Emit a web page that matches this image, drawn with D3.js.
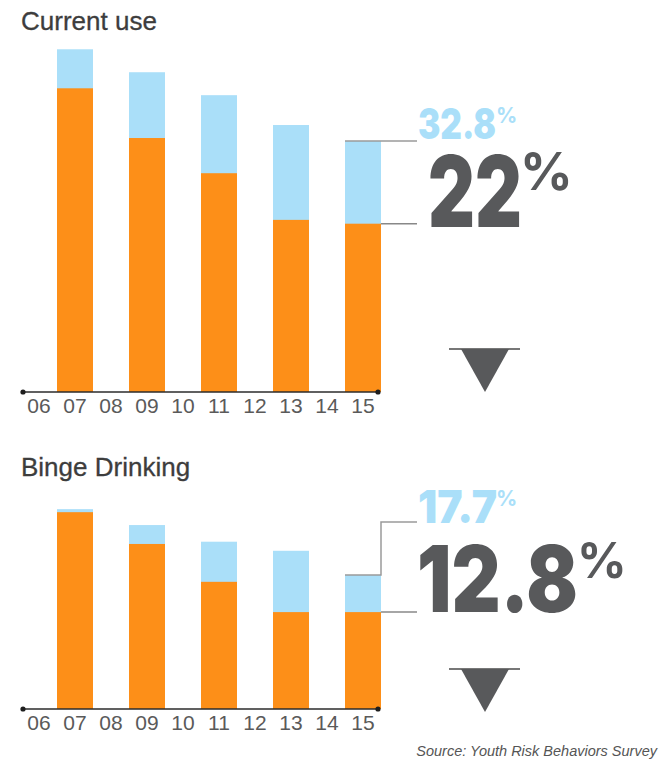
<!DOCTYPE html>
<html>
<head>
<meta charset="utf-8">
<script src="https://cdn.jsdelivr.net/npm/d3@7"></script>
<style>
  body { margin: 0; background: #fff; }
  svg { display: block; }
</style>
</head>
<body>
<div id="chart"></div>
<script>
// Data
const years = ["06", "07", "08", "09", "10", "11", "12", "13", "14", "15"];
const barYears = ["07", "09", "11", "13", "15"];

const currentTotal = [44.8, 41.8, 38.8, 34.9, 32.8];
const currentOrange = [39.7, 33.2, 28.6, 22.5, 22];

const bingeTotal = [26.4, 24.3, 22.1, 20.9, 17.7];
const bingeOrange = [26.0, 21.8, 16.8, 12.8, 12.8];

const titles = ["Current use", "Binge Drinking"];
const bigLabels = ["22", "12.8"];
const smallLabels = ["32.8", "17.7"];

const ORANGE = "#fd8f18";
const BLUE = "#aadff9";
const DARK = "#58595b";
const LINE = "#9a9a9a";
const numFont = "Inter, Roboto, 'DejaVu Sans', sans-serif";
const textFont = "'Liberation Sans', Arial, Helvetica, sans-serif";

const width = 660, height = 761;

const svg = d3.select("#chart")
    .append("svg")
    .attr("width", width)
    .attr("height", height);

const x = d3.scaleBand()
    .domain(years)
    .range([21, 381])
    .padding(0);

// Panel settings (layout only)
const panels = [
    {
        title: titles[0], titleY: 30,
        total: currentTotal, orange: currentOrange,
        base: 392, pxPer: 7.65,
        small: smallLabels[0], big: bigLabels[0],
        smallX: 418, smallY: 139, smallSize: 42, smallW: 78,
        smallPctX: 496, smallPctY: 123, smallPctSize: 21,
        bigX: 428, bigY: 227, bigSize: 99, bigW: 94,
        bigPctX: 520, bigPctY: 190, bigPctSize: 52,
        elbow: null,
        triY: 349
    },
    {
        title: titles[1], titleY: 476,
        total: bingeTotal, orange: bingeOrange,
        base: 709, pxPer: 7.57,
        small: smallLabels[1], big: bigLabels[1],
        smallX: 418, smallY: 523, smallSize: 45, smallW: 79,
        smallPctX: 496, smallPctY: 506, smallPctSize: 21,
        bigX: 417, bigY: 612, bigSize: 92, bigW: 161,
        bigPctX: 577, bigPctY: 578, bigPctSize: 49,
        elbow: 522,
        triY: 669
    }
];

panels.forEach(p => {
    const y = d3.scaleLinear()
        .domain([0, 10])
        .range([p.base, p.base - 10 * p.pxPer]);

    const g = svg.append("g");

    // Title
    g.append("text")
        .attr("x", 21)
        .attr("y", p.titleY)
        .attr("font-family", textFont)
        .attr("font-size", 26)
        .attr("fill", "#3d3d3d")
        .attr("stroke", "#3d3d3d")
        .attr("stroke-width", 0.3)
        .text(p.title);

    const bars = barYears.map((yr, i) => ({ year: yr, total: p.total[i], orange: p.orange[i] }));

    // Total (blue) bars
    g.selectAll(".total")
        .data(bars)
        .join("rect")
        .attr("x", d => x(d.year))
        .attr("width", x.bandwidth())
        .attr("y", d => y(d.total))
        .attr("height", d => y(0) - y(d.total))
        .attr("fill", BLUE);

    // Orange bars in front
    g.selectAll(".orange")
        .data(bars)
        .join("rect")
        .attr("x", d => x(d.year))
        .attr("width", x.bandwidth())
        .attr("y", d => y(d.orange))
        .attr("height", d => y(0) - y(d.orange))
        .attr("fill", ORANGE);

    // Axis baseline with end dots
    const x0 = 23, x1 = 378;
    g.append("line")
        .attr("x1", x0).attr("x2", x1)
        .attr("y1", p.base).attr("y2", p.base)
        .attr("stroke", "#2b2b2b")
        .attr("stroke-width", 1.5);
    g.selectAll(".dot")
        .data([x0, x1])
        .join("circle")
        .attr("cx", d => d)
        .attr("cy", p.base)
        .attr("r", 2.6)
        .attr("fill", "#1e1e1e");

    // Year labels
    g.selectAll(".yr")
        .data(years)
        .join("text")
        .attr("x", d => x(d) + x.bandwidth() / 2)
        .attr("y", p.base + 21)
        .attr("text-anchor", "middle")
        .attr("font-family", textFont)
        .attr("font-size", 21)
        .attr("fill", "#5a5a5a")
        .text(d => d);

    // Annotation connector lines for the last bar
    const last = bars[bars.length - 1];
    const bx = x(last.year), bw = x.bandwidth();
    const yT = y(last.total), yO = y(last.orange);
    const endX = 417;

    if (p.elbow === null) {
        g.append("line")
            .attr("x1", bx).attr("x2", endX)
            .attr("y1", yT).attr("y2", yT)
            .attr("stroke", LINE).attr("stroke-width", 1.5);
    } else {
        g.append("path")
            .attr("d", `M${bx},${yT}H${bx + bw}V${p.elbow}H${endX}`)
            .attr("fill", "none")
            .attr("stroke", LINE).attr("stroke-width", 1.5);
    }
    g.append("line")
        .attr("x1", bx + bw).attr("x2", endX)
        .attr("y1", yO).attr("y2", yO)
        .attr("stroke", "#888").attr("stroke-width", 1.5);

    // Small (total) label
    g.append("text")
        .attr("x", p.smallX).attr("y", p.smallY)
        .attr("font-family", numFont)
        .attr("font-weight", 900)
        .attr("font-size", p.smallSize)
        .attr("textLength", p.smallW)
        .attr("lengthAdjust", "spacingAndGlyphs")
        .attr("fill", BLUE)
        .text(p.small);
    g.append("text")
        .attr("x", p.smallPctX).attr("y", p.smallPctY)
        .attr("font-family", numFont)
        .attr("font-weight", 700)
        .attr("font-size", p.smallPctSize)
        .attr("fill", BLUE)
        .text("%");

    // Big (orange) label
    g.append("text")
        .attr("x", p.bigX).attr("y", p.bigY)
        .attr("font-family", numFont)
        .attr("font-weight", 900)
        .attr("font-size", p.bigSize)
        .attr("textLength", p.bigW)
        .attr("lengthAdjust", "spacingAndGlyphs")
        .attr("fill", DARK)
        .text(p.big);
    g.append("text")
        .attr("x", p.bigPctX).attr("y", p.bigPctY)
        .attr("font-family", numFont)
        .attr("font-weight", 700)
        .attr("font-size", p.bigPctSize)
        .attr("fill", DARK)
        .text("%");

    // Down triangle
    g.append("line")
        .attr("x1", 449).attr("x2", 520)
        .attr("y1", p.triY).attr("y2", p.triY)
        .attr("stroke", "#777").attr("stroke-width", 2);
    g.append("path")
        .attr("d", `M461,${p.triY}L509,${p.triY}L485,${p.triY + 43}Z`)
        .attr("fill", DARK);
});

// Source note
svg.append("text")
    .attr("x", 657)
    .attr("y", 756)
    .attr("text-anchor", "end")
    .attr("font-family", textFont)
    .attr("font-style", "italic")
    .attr("font-size", 14.5)
    .attr("fill", "#555")
    .text("Source: Youth Risk Behaviors Survey");
</script>
</body>
</html>
